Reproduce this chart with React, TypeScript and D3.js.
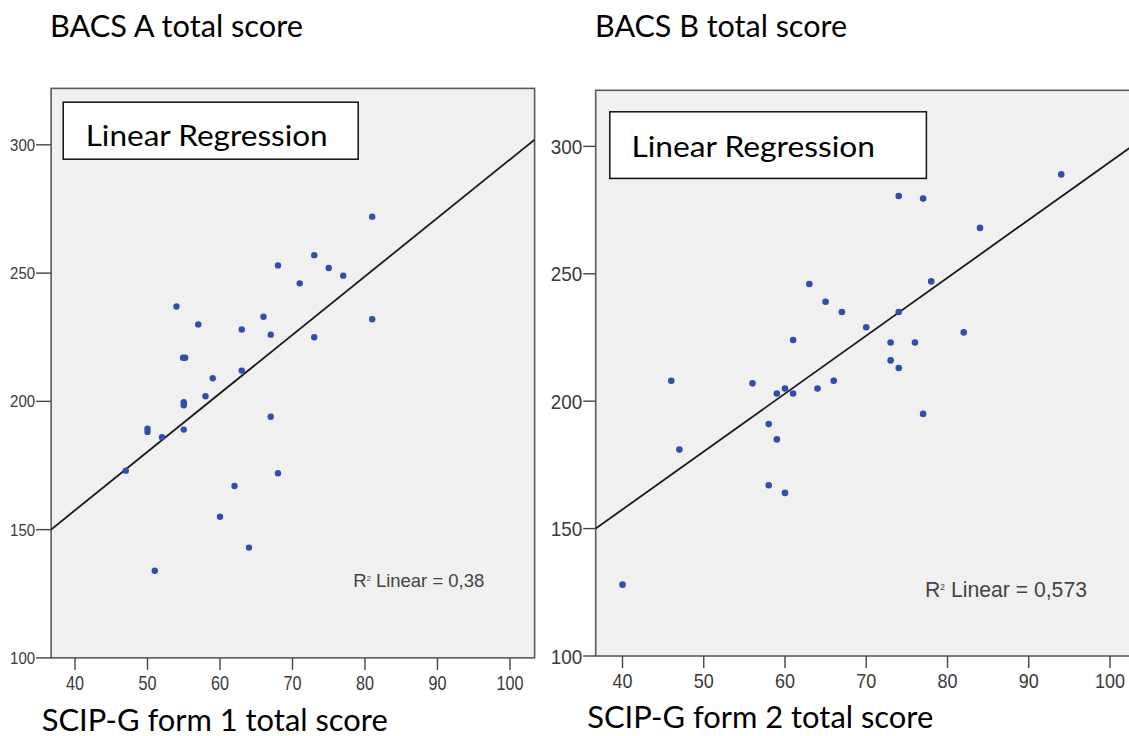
import React from "react";
import * as d3 from "d3";

// ---- data ----
const xTicks = [40, 50, 60, 70, 80, 90, 100];
const yTicks = [100, 150, 200, 250, 300];

// Panel A: SCIP-G form 1 (x) vs BACS A (y)
const scipForm1 = [81, 73, 68, 75, 77, 71, 54, 66, 81, 57, 63, 67, 73, 54.9, 55.2, 63, 59, 58, 55, 55, 67, 50, 50, 55, 52, 47, 68, 62, 60, 64, 51];
const bacsA = [272, 257, 253, 252, 249, 246, 237, 233, 232, 230, 228, 226, 225, 217, 217, 212, 209, 202, 199.7, 198.5, 194, 189.3, 188.1, 189, 186, 173, 172, 167, 155, 143, 134];

// Panel B: SCIP-G form 2 (x) vs BACS B (y)
const scipForm2 = [94, 74, 77, 84, 63, 78, 65, 67, 74, 70, 82, 61, 73, 76, 73, 74, 46, 66, 56, 60, 64, 59, 61, 77, 58, 59, 47, 58, 60, 40];
const bacsB = [289, 280.5, 279.5, 268, 246, 247, 239, 235, 235, 229, 227, 224, 223, 223, 216, 213, 208, 208, 207, 205, 205, 203, 203, 195, 191, 185, 181, 167, 164, 128];

// fitted lines [intercept, slope] as drawn
const fitA = [66.4, 2.279];
const fitB = [66.6, 2.273];

const r2Values = ["0,38", "0,573"];
const topTitles = ["BACS A total score", "BACS B total score"];
const bottomTitles = ["SCIP-G form 1 total score", "SCIP-G form 2 total score"];
const legendLabel = "Linear Regression";

const xDomain = [36.7, 103.4];
const yDomain = [100, 322];

type Geo = {
  left: number; right: number; top: number; bottom: number;
  tickLen: number; yLabelSize: number; yLabelW: number; xLabelSize: number; xLabelW: number;
  xLabelBase: number; dotR: number;
  box: [number, number, number, number]; boxText: [number, number, number];
  r2: [number, number, number, number];
  topTitle: [number, number, number]; bottomTitle: [number, number, number];
  clipId: string;
};

const geoA: Geo = {
  left: 51.1, right: 534.6, top: 88.4, bottom: 657.9,
  tickLen: 15, yLabelSize: 17, yLabelW: 25, xLabelSize: 21, xLabelW: 18,
  xLabelBase: 690, dotR: 3.2,
  box: [63.2, 102.2, 295, 57], boxText: [85.7, 145.8, 242],
  r2: [353.3, 586.7, 131, 18.5],
  topTitle: [50, 36.7, 253], bottomTitle: [41.7, 730.5, 346],
  clipId: "clipA",
};

const geoB: Geo = {
  left: 595.7, right: 1137.6, top: 90.3, bottom: 656,
  tickLen: 12.5, yLabelSize: 21, yLabelW: 31.5, xLabelSize: 21, xLabelW: 20,
  xLabelBase: 688, dotR: 3.3,
  box: [609.8, 111.8, 316.6, 66.6], boxText: [631.4, 156.5, 243.6],
  r2: [925, 596.6, 162, 22],
  topTitle: [595, 36.7, 252], bottomTitle: [587.2, 728, 346],
  clipId: "clipB",
};

const titleFont = "Lato, 'Noto Sans', sans-serif";
const axisFont = "'Liberation Sans', Arial, sans-serif";

function Panel({ xs, ys, fit, r2, g, top, bottom }: { xs: number[]; ys: number[]; fit: number[]; r2: string; g: Geo; top: string; bottom: string }) {
  const x = d3.scaleLinear().domain(xDomain).range([g.left, g.right]);
  const y = d3.scaleLinear().domain(yDomain).range([g.bottom, g.top]);
  const pts = xs.map((v, i) => [v, ys[i]] as [number, number]);
  const line = d3.line<number>()
    .x((v) => x(v))
    .y((v) => y(fit[0] + fit[1] * v));
  return (
    <g>
      <defs>
        <clipPath id={g.clipId}>
          <rect x={g.left} y={g.top} width={g.right - g.left} height={g.bottom - g.top} />
        </clipPath>
      </defs>
      <rect x={g.left} y={g.top} width={g.right - g.left} height={g.bottom - g.top} fill="#f0f0f0" stroke="#5a5a5a" strokeWidth={1.6} />
      {yTicks.map((t) => (
        <g key={"y" + t}>
          <line x1={g.left - g.tickLen} x2={g.left} y1={y(t)} y2={y(t)} stroke="#444" strokeWidth={1.4} />
          <text x={g.left - g.tickLen - 1} y={y(t)} dy="0.36em" textAnchor="end" fontFamily={axisFont} fontSize={g.yLabelSize} fill="#3a3a3a" textLength={g.yLabelW * String(t).length / 3} lengthAdjust="spacingAndGlyphs">{t}</text>
        </g>
      ))}
      {xTicks.map((t) => (
        <g key={"x" + t}>
          <line x1={x(t)} x2={x(t)} y1={g.bottom} y2={g.bottom + 12} stroke="#444" strokeWidth={1.4} />
          <text x={x(t)} y={g.xLabelBase} textAnchor="middle" fontFamily={axisFont} fontSize={g.xLabelSize} fill="#3a3a3a" textLength={g.xLabelW * String(t).length / 2} lengthAdjust="spacingAndGlyphs">{t}</text>
        </g>
      ))}
      <g clipPath={`url(#${g.clipId})`}>
        <path d={line(xDomain) || ""} fill="none" stroke="#1a1a1a" strokeWidth={1.8} />
        {pts.map((p, i) => (
          <circle key={i} cx={x(p[0])} cy={y(p[1])} r={g.dotR} fill="#2f4faa" />
        ))}
      </g>
      <rect x={g.box[0]} y={g.box[1]} width={g.box[2]} height={g.box[3]} fill="#ffffff" stroke="#111" strokeWidth={1.5} />
      <text x={g.boxText[0]} y={g.boxText[1]} fontFamily={titleFont} fontSize={29} fill="#000" textLength={g.boxText[2]} lengthAdjust="spacingAndGlyphs">{legendLabel}</text>
      <text x={g.r2[0]} y={g.r2[1]} fontFamily={axisFont} fontSize={g.r2[3]} fill="#444" textLength={g.r2[2]} lengthAdjust="spacingAndGlyphs">
        <tspan>R</tspan>
        <tspan fontSize={g.r2[3] * 0.4} dy={-g.r2[3] * 0.3}>2</tspan>
        <tspan dy={g.r2[3] * 0.3}>{" Linear = " + r2}</tspan>
      </text>
      <text x={g.topTitle[0]} y={g.topTitle[1]} fontFamily={titleFont} fontSize={30} fill="#000" textLength={g.topTitle[2]} lengthAdjust="spacingAndGlyphs">{top}</text>
      <text x={g.bottomTitle[0]} y={g.bottomTitle[1]} fontFamily={titleFont} fontSize={30} fill="#000" textLength={g.bottomTitle[2]} lengthAdjust="spacingAndGlyphs">{bottom}</text>
    </g>
  );
}

export default function App() {
  return (
    <svg width={1129} height={736} viewBox="0 0 1129 736" style={{ position: "absolute", left: 0, top: 0, display: "block", background: "#fff" }}>
      <rect x={0} y={0} width={1129} height={736} fill="#fff" />
      <Panel xs={scipForm1} ys={bacsA} fit={fitA} r2={r2Values[0]} g={geoA} top={topTitles[0]} bottom={bottomTitles[0]} />
      <Panel xs={scipForm2} ys={bacsB} fit={fitB} r2={r2Values[1]} g={geoB} top={topTitles[1]} bottom={bottomTitles[1]} />
    </svg>
  );
}
